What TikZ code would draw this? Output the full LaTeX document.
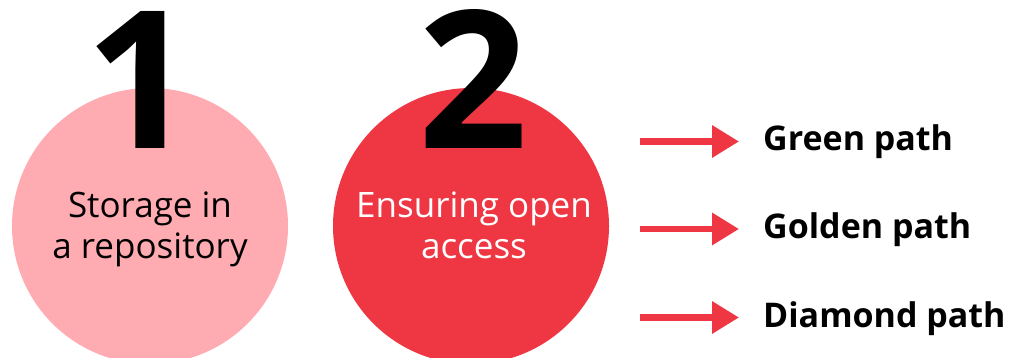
\documentclass[tikz,border=0pt]{standalone}
\usepackage{fontspec}
\setmainfont{Open Sans}
\usetikzlibrary{arrows.meta}
\definecolor{softpink}{RGB}{255,171,178}
\definecolor{accentred}{RGB}{239,54,67}
\begin{document}
\begin{tikzpicture}[x=1pt,y=-1pt,
        bubble/.style={circle,minimum size=276pt,inner sep=0pt},
        digit/.style={font=\fontsize{192}{192}\selectfont\bfseries,inner sep=0pt,anchor=base},
        caption/.style={font=\fontsize{35}{41}\selectfont,align=center,inner sep=0pt},
        pathlabel/.style={font=\fontsize{34}{40}\selectfont\bfseries,inner sep=0pt,text height=19pt,text depth=0pt,anchor=west},
        patharrow/.style={-{Triangle[length=27pt,width=31pt]},line width=6.5pt,draw=accentred,shorten >=24pt}]
        \useasboundingbox (0,0) rectangle (1011,358);
        \clip (0,0) rectangle (1011,358);
        \node[bubble,fill=softpink] (c1) at (150,226) {};
        \node[bubble,fill=accentred] (c2) at (471,226) {};
        \node[digit] (n1) at (140,149) {1};
        \node[digit] (n2) at (473,149) {2};
        \node[caption] (t1) at (150,229) {Storage in\\a repository};
        \node[caption,text=white] (t2) at (474,225) {Ensuring open\\access};
        \coordinate (a1) at (640,141.5);
        \coordinate (a2) at (640,229);
        \coordinate (a3) at (640,317.5);
        \node[pathlabel] (green) at (763,141.5) {Green path};
        \node[pathlabel] (golden) at (763,229) {Golden path};
        \node[pathlabel] (diamond) at (763,317.5) {Diamond path};
        \draw[patharrow] (a1) -- (green.west);
        \draw[patharrow] (a2) -- (golden.west);
        \draw[patharrow] (a3) -- (diamond.west);
    \end{tikzpicture}
\end{document}
